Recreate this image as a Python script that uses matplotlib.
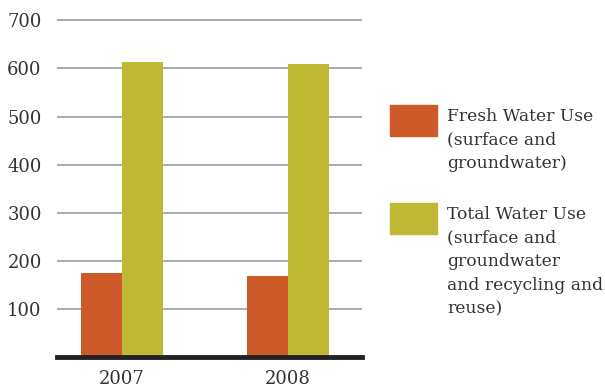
import matplotlib.pyplot as plt
from matplotlib.patches import Rectangle
import numpy as np

years = ["2007", "2008"]
fresh_use = [175, 168]
total_use = [613, 609]
legend_labels = [
    "Fresh Water Use\n(surface and\ngroundwater)",
    "Total Water Use\n(surface and\ngroundwater\nand recycling and\nreuse)",
]

orange = "#CD5A28"
olive = "#BEB934"
txt = "#333333"

plt.rcParams["font.family"] = "DejaVu Serif"

fig = plt.figure(figsize=(6.05, 3.87), dpi=100)
# a little headroom above 700 so the top gridline isn't clipped
ax = fig.add_axes([57 / 605, 29.7 / 387, 305 / 605, 340 / 387])

x = np.arange(len(years))
w = 41 / 166
ax.bar(x - w / 2, fresh_use, w, color=orange, zorder=3)
ax.bar(x + w / 2, total_use, w, color=olive, zorder=3)

ax.set_xlim(-65 / 166, 240 / 166)
ax.set_ylim(0, 700 * 340 / 337)
ax.set_yticks(range(100, 701, 100))
ax.set_xticks(x)
ax.set_xticklabels(years)
ax.tick_params(axis="both", length=0, labelsize=13, colors=txt)
ax.tick_params(axis="y", pad=11)
ax.tick_params(axis="x", pad=9)
ax.grid(axis="y", color="#A3A3A3", linewidth=1.3, zorder=0)

for s in ["top", "right", "left"]:
    ax.spines[s].set_visible(False)
ax.spines["bottom"].set_color("#222222")
ax.spines["bottom"].set_linewidth(3.5)
ax.spines["bottom"].set_zorder(4)

# legend drawn by hand: swatch plus wrapped text
for top, col, lab in [(105, orange, legend_labels[0]), (203, olive, legend_labels[1])]:
    fig.patches.append(Rectangle((390 / 605, 1 - (top + 31) / 387), 47 / 605, 31 / 387,
                                 transform=fig.transFigure, color=col))
    fig.text(447 / 605, 1 - (top + 3) / 387, lab, fontsize=12.3, color=txt,
             va="top", ha="left", linespacing=1.5)

fig.savefig("out.png", dpi=100)
